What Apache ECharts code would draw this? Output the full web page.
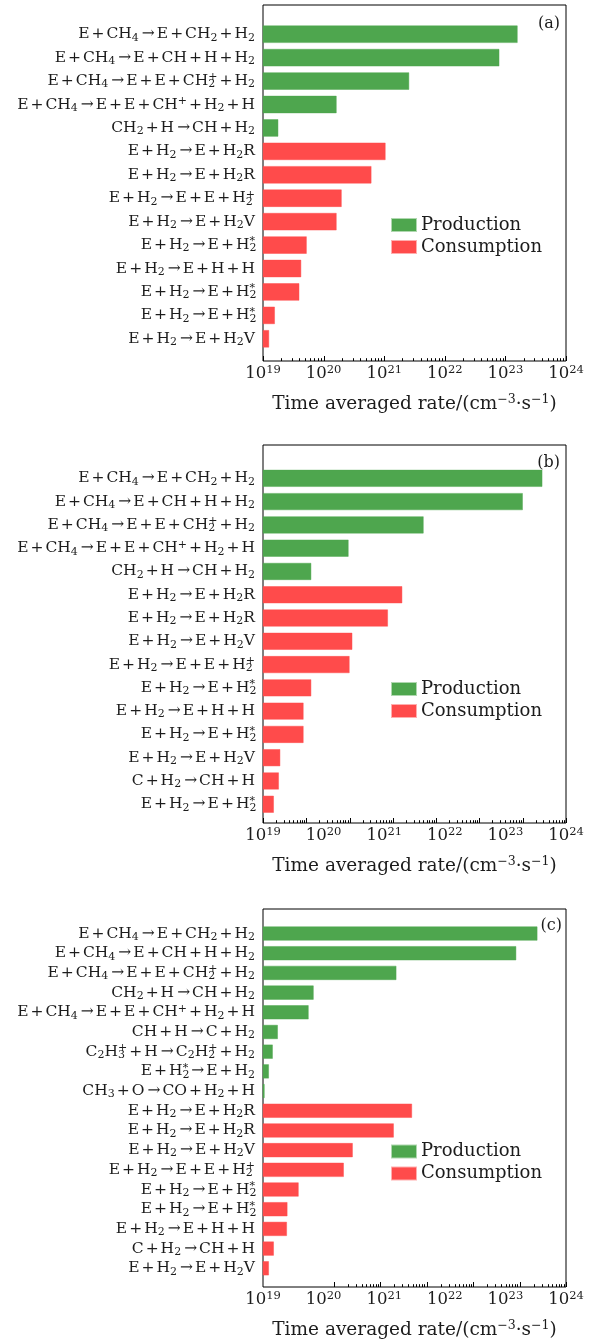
<!DOCTYPE html>
<html>
<head>
<meta charset="utf-8">
<script src="https://cdn.jsdelivr.net/npm/echarts@6/dist/echarts.min.js"></script>
<style>
  html, body { margin: 0; padding: 0; background: #fff; }
  #chart { width: 595px; height: 1342px; }
</style>
</head>
<body>
<div id="chart"></div>
<script>
// Reaction labels use a small markup: _x subscript, ^x superscript, _x^y stacked.
const rateExponents = [19, 20, 21, 22, 23, 24];
const seriesNames = ['Production', 'Consumption'];
const panelTags = ['(a)', '(b)', '(c)'];

const reactionsA = [
  'E+CH_4→E+CH_2+H_2',
  'E+CH_4→E+CH+H+H_2',
  'E+CH_4→E+E+CH_2^++H_2',
  'E+CH_4→E+E+CH^++H_2+H',
  'CH_2+H→CH+H_2',
  'E+H_2→E+H_2R',
  'E+H_2→E+H_2R',
  'E+H_2→E+E+H_2^+',
  'E+H_2→E+H_2V',
  'E+H_2→E+H_2^*',
  'E+H_2→E+H+H',
  'E+H_2→E+H_2^*',
  'E+H_2→E+H_2^*',
  'E+H_2→E+H_2V'
];
const productionA = [1.6e23, 8.0e22, 2.6e21, 1.65e20, 1.8e19];
const consumptionA = [1.06e21, 6.2e20, 2.0e20, 1.65e20, 5.3e19, 4.3e19, 4.0e19, 1.58e19, 1.27e19];

const reactionsB = [
  'E+CH_4→E+CH_2+H_2',
  'E+CH_4→E+CH+H+H_2',
  'E+CH_4→E+E+CH_2^++H_2',
  'E+CH_4→E+E+CH^++H_2+H',
  'CH_2+H→CH+H_2',
  'E+H_2→E+H_2R',
  'E+H_2→E+H_2R',
  'E+H_2→E+H_2V',
  'E+H_2→E+E+H_2^+',
  'E+H_2→E+H_2^*',
  'E+H_2→E+H+H',
  'E+H_2→E+H_2^*',
  'E+H_2→E+H_2V',
  'C+H_2→CH+H',
  'E+H_2→E+H_2^*'
];
const productionB = [4.1e23, 1.95e23, 4.5e21, 2.6e20, 6.3e19];
const consumptionB = [2.0e21, 1.16e21, 3.0e20, 2.7e20, 6.3e19, 4.7e19, 4.7e19, 1.94e19, 1.84e19, 1.52e19];

const reactionsC = [
  'E+CH_4→E+CH_2+H_2',
  'E+CH_4→E+CH+H+H_2',
  'E+CH_4→E+E+CH_2^++H_2',
  'CH_2+H→CH+H_2',
  'E+CH_4→E+E+CH^++H_2+H',
  'CH+H→C+H_2',
  'C_2H_3^++H→C_2H_2^++H_2',
  'E+H_2^*→E+H_2',
  'CH_3+O→CO+H_2+H',
  'E+H_2→E+H_2R',
  'E+H_2→E+H_2R',
  'E+H_2→E+H_2V',
  'E+H_2→E+E+H_2^+',
  'E+H_2→E+H_2^*',
  'E+H_2→E+H_2^*',
  'E+H_2→E+H+H',
  'C+H_2→CH+H',
  'E+H_2→E+H_2V'
];
const productionC = [3.4e23, 1.52e23, 1.6e21, 6.9e19, 5.7e19, 1.77e19, 1.46e19, 1.26e19, 1.07e19];
const consumptionC = [2.9e21, 1.45e21, 3.05e20, 2.17e20, 3.9e19, 2.55e19, 2.5e19, 1.52e19, 1.26e19];

// ---- styling & layout ----
const SERIF = "'DejaVu Serif', serif";
const INK = '#1c1c1c';
const GREEN = '#4ea64e';
const RED = '#ff4b4b';

const layout = [
  { frameTop: 5,   frameH: 356, barTop: 22.5,  band: 23.43, barW: '76%', ticks: { lo: 0, hi: 5, from: 0 },     legendTop: 216,  tagTop: 16,  tagRight: 35 },
  { frameTop: 445, frameH: 378, barTop: 466.7, band: 23.28, barW: '75%', ticks: { lo: 0, hi: 7, from: 0 },     legendTop: 680,  tagTop: 455, tagRight: 35 },
  { frameTop: 909, frameH: 378, barTop: 923.7, band: 19.69, barW: '74%', ticks: { lo: -1.52, hi: 5, from: 0 }, legendTop: 1142.5, tagTop: 918, tagRight: 33 }
];
const panelData = [
  { reactions: reactionsA, prod: productionA, cons: consumptionA },
  { reactions: reactionsB, prod: productionB, cons: consumptionB },
  { reactions: reactionsC, prod: productionC, cons: consumptionC }
];

const FRAME_LEFT = 263;
const FRAME_RIGHT = 29;

function reactionRich(markup) {
  let out = '', buf = '';
  const flush = () => { if (buf) { out += '{b|' + buf + '}'; buf = ''; } };
  for (let i = 0; i < markup.length; i++) {
    const c = markup[i];
    if (c === '_') {
      flush();
      const s = markup[++i];
      if (markup[i + 1] === '^') {
        const t = markup[i + 2];
        i += 2;
        out += '{ss|' + s + '}{sup|' + t + '}';
      } else {
        out += '{sub|' + s + '}';
      }
    } else if (c === '^') {
      flush();
      out += '{sup|' + markup[++i] + '}';
    } else if (c === '+') {
      flush();
      out += '{op|+}';
    } else if (c === '→') {
      flush();
      out += '{arr|→}';
    } else {
      buf += c;
    }
  }
  flush();
  return out;
}

const baseText = { fontFamily: SERIF, fontSize: 15.5, color: INK, lineHeight: 18, verticalAlign: 'middle', align: 'left' };
const smallText = { fontFamily: SERIF, fontSize: 11, color: INK, lineHeight: 10, align: 'left' };
const reactionStyles = {
  b: baseText,
  op: Object.assign({}, baseText, { padding: [0, 2, 0, 2] }),
  arr: Object.assign({}, baseText, { padding: [0, 2, 0, 3] }),
  sub: Object.assign({}, smallText, { verticalAlign: 'bottom' }),
  sup: Object.assign({}, smallText, { verticalAlign: 'top' }),
  ss: Object.assign({}, smallText, { verticalAlign: 'bottom', width: 0.1 })
};

function tickMarks(spec) {
  const marks = [];
  for (let d = spec.from; d <= spec.hi; d++) {
    marks.push([d, 5]);
    if (d < spec.hi) {
      for (let k = 2; k <= 9; k++) marks.push([d + Math.log10(k), 2.8]);
    }
  }
  return marks;
}

const grid = [], xAxis = [], yAxis = [], series = [], legend = [], title = [];
const rateMin = Math.pow(10, rateExponents[0]);
const rateMax = Math.pow(10, rateExponents[rateExponents.length - 1]);

panelData.forEach((pd, p) => {
  const L = layout[p];
  const frameGrid = grid.length;
  grid.push({ left: FRAME_LEFT, right: FRAME_RIGHT, top: L.frameTop, height: L.frameH,
    show: true, borderColor: '#000', borderWidth: 1, backgroundColor: 'transparent' });
  const barGrid = grid.length;
  grid.push({ left: FRAME_LEFT, right: FRAME_RIGHT, top: L.barTop, height: L.band * pd.reactions.length });

  // labelled rate axis along the frame
  xAxis.push({
    type: 'log', logBase: 10, gridIndex: frameGrid, min: rateMin, max: rateMax,
    axisLine: { show: false }, axisTick: { show: false }, splitLine: { show: false },
    axisLabel: {
      margin: 3,
      formatter: v => '{m|10}{e|' + Math.round(Math.log10(v)) + '}',
      rich: {
        m: { fontFamily: SERIF, fontSize: 16.5, color: INK, lineHeight: 20, verticalAlign: 'middle' },
        e: { fontFamily: SERIF, fontSize: 11.5, color: INK, lineHeight: 11, verticalAlign: 'top' }
      }
    },
    name: '{t|Time averaged rate/(cm}{e|−3}{t|·s}{e|−1}{t|)}',
    nameLocation: 'middle', nameGap: 32,
    nameTextStyle: {
      rich: {
        t: { fontFamily: SERIF, fontSize: 18.5, color: INK, lineHeight: 22, verticalAlign: 'middle' },
        e: { fontFamily: SERIF, fontSize: 12.5, color: INK, lineHeight: 12, verticalAlign: 'top' }
      }
    }
  });
  // bar value axis (same range, hidden)
  const barAxis = xAxis.length;
  xAxis.push({ type: 'log', logBase: 10, gridIndex: barGrid, min: rateMin, max: rateMax, show: false });
  // tick positions along the frame bottom
  const tickAxis = xAxis.length;
  xAxis.push({ type: 'value', gridIndex: frameGrid, min: L.ticks.lo, max: L.ticks.hi, show: false });

  const frameY = yAxis.length;
  yAxis.push({ type: 'value', gridIndex: frameGrid, min: 0, max: 1, show: false });
  const catY = yAxis.length;
  yAxis.push({
    type: 'category', gridIndex: barGrid, inverse: true, data: pd.reactions,
    axisLine: { show: false }, axisTick: { show: false },
    axisLabel: {
      interval: 0, margin: 8,
      formatter: (v, i) => reactionRich(pd.reactions[i]),
      rich: reactionStyles
    }
  });

  series.push({
    name: seriesNames[0], type: 'bar', xAxisIndex: barAxis, yAxisIndex: catY,
    barWidth: L.barW, barGap: '-100%', clip: true,
    itemStyle: { color: GREEN, borderColor: 'rgba(78,166,78,0.45)', borderWidth: 1 },
    data: pd.prod.concat(pd.cons.map(() => '-'))
  });
  series.push({
    name: seriesNames[1], type: 'bar', xAxisIndex: barAxis, yAxisIndex: catY,
    barWidth: L.barW, barGap: '-100%', clip: true,
    itemStyle: { color: RED, borderColor: 'rgba(255,75,75,0.45)', borderWidth: 1 },
    data: pd.prod.map(() => '-').concat(pd.cons)
  });
  series.push({
    type: 'custom', xAxisIndex: tickAxis, yAxisIndex: frameY, silent: true, clip: false,
    data: tickMarks(L.ticks),
    renderItem: (params, api) => {
      const pt = api.coord([api.value(0), 0]);
      const x = Math.round(pt[0]) + 0.5;
      return { type: 'line', shape: { x1: x, y1: pt[1], x2: x, y2: pt[1] - api.value(1) },
        style: { stroke: '#000', lineWidth: 1 } };
    }
  });

  legend.push({
    orient: 'vertical', left: 391, top: L.legendTop, padding: 0,
    itemWidth: 24, itemHeight: 12, itemGap: 4,
    icon: 'rect', selectedMode: false, data: seriesNames,
    textStyle: { fontFamily: SERIF, fontSize: 18, color: INK }
  });
  title.push({
    text: panelTags[p], right: L.tagRight, top: L.tagTop, padding: 0,
    textStyle: { fontFamily: SERIF, fontSize: 16, fontWeight: 'normal', color: INK }
  });
});

const chart = echarts.init(document.getElementById('chart'), null, { renderer: 'canvas' });
chart.setOption({
  animation: false,
  backgroundColor: '#fff',
  title, legend, grid, xAxis, yAxis, series
});
</script>
</body>
</html>
